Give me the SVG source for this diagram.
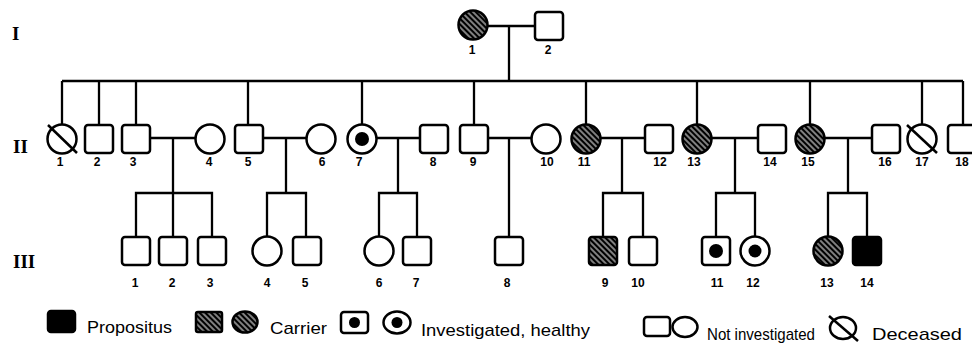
<svg xmlns="http://www.w3.org/2000/svg" width="972" height="345" viewBox="0 0 972 345">
<style>
.sq{fill:#fff;stroke:#000;stroke-width:2.5}
.ci{fill:#fff;stroke:#000;stroke-width:2.5}
.ha{fill:url(#hatch);stroke:#000;stroke-width:2.5}
.bk{fill:#000;stroke:#000;stroke-width:2.5}
.dot{fill:#000;stroke:none}
.ln{stroke:#000;stroke-width:2.3;fill:none}
.sl{stroke:#000;stroke-width:2.5;fill:none}
.l2{font-family:"Liberation Sans",Arial,sans-serif;font-weight:bold;font-size:12px;text-anchor:middle;fill:#000}
.l3{font-family:"Liberation Sans",Arial,sans-serif;font-weight:bold;font-size:12px;text-anchor:middle;fill:#000}
.rn{font-family:"Liberation Serif","Times New Roman",serif;font-weight:bold;font-size:19px;fill:#000}
.lg{font-family:"Liberation Sans",Arial,sans-serif;font-size:17px;fill:#000}
</style>
<defs>
<pattern id="hatch" patternUnits="userSpaceOnUse" width="4" height="4" patternTransform="rotate(-45)">
<rect width="4" height="4" fill="#000"/>
<line x1="2" y1="0" x2="2" y2="4" stroke="#fff" stroke-width="1"/>
</pattern>
</defs>

<g id="gen-labels">
<text class="rn" x="12" y="40">I</text>
<text class="rn" x="13" y="153">II</text>
<text class="rn" x="13" y="268">III</text>
</g>

<g id="connectors">
<line class="ln" x1="488" y1="26" x2="535" y2="26"/>
<line class="ln" x1="509" y1="26" x2="509" y2="81"/>
<line class="ln" x1="62" y1="81" x2="963" y2="81"/>
<line class="ln" x1="62" y1="81" x2="62" y2="125"/>
<line class="ln" x1="99" y1="81" x2="99" y2="125"/>
<line class="ln" x1="136" y1="81" x2="136" y2="125"/>
<line class="ln" x1="248" y1="81" x2="248" y2="125"/>
<line class="ln" x1="362" y1="81" x2="362" y2="125"/>
<line class="ln" x1="474" y1="81" x2="474" y2="125"/>
<line class="ln" x1="586" y1="81" x2="586" y2="125"/>
<line class="ln" x1="697" y1="81" x2="697" y2="125"/>
<line class="ln" x1="810" y1="81" x2="810" y2="125"/>
<line class="ln" x1="922" y1="81" x2="922" y2="125"/>
<line class="ln" x1="963" y1="81" x2="963" y2="125"/>
<line class="ln" x1="150" y1="138" x2="196" y2="138"/>
<line class="ln" x1="263" y1="138" x2="307" y2="138"/>
<line class="ln" x1="376" y1="138" x2="420" y2="138"/>
<line class="ln" x1="488" y1="138" x2="532" y2="138"/>
<line class="ln" x1="600" y1="138" x2="645" y2="138"/>
<line class="ln" x1="711" y1="138" x2="758" y2="138"/>
<line class="ln" x1="824" y1="138" x2="872" y2="138"/>
<line class="ln" x1="173" y1="138" x2="173" y2="193"/>
<line class="ln" x1="286" y1="138" x2="286" y2="193"/>
<line class="ln" x1="398" y1="138" x2="398" y2="193"/>
<line class="ln" x1="509" y1="138" x2="509" y2="237"/>
<line class="ln" x1="622" y1="138" x2="622" y2="193"/>
<line class="ln" x1="735" y1="138" x2="735" y2="193"/>
<line class="ln" x1="848" y1="138" x2="848" y2="193"/>
<polyline class="ln" points="136,237 136,193 212,193 212,237"/>
<line class="ln" x1="173" y1="193" x2="173" y2="237"/>
<polyline class="ln" points="267,237 267,193 306,193 306,237"/>
<polyline class="ln" points="379,237 379,193 417,193 417,237"/>
<polyline class="ln" points="603,237 603,193 643,193 643,237"/>
<polyline class="ln" points="716,237 716,193 755,193 755,237"/>
<polyline class="ln" points="828,237 828,193 867,193 867,237"/>
</g>

<g id="I-1"><circle class="ha" cx="473" cy="25" r="14.5"/><text class="l2" x="472" y="54">1</text></g>
<g id="I-2"><rect class="sq" x="535" y="12" width="28" height="28" rx="3"/><text class="l2" x="548" y="54">2</text></g>

<g id="II-1"><circle class="ci" cx="62" cy="139" r="14.5"/><line class="sl" x1="48" y1="125" x2="77" y2="153"/><text class="l2" x="60" y="166">1</text></g>
<g id="II-2"><rect class="sq" x="85" y="125" width="28" height="28" rx="3"/><text class="l2" x="97" y="166">2</text></g>
<g id="II-3"><rect class="sq" x="122" y="125" width="28" height="28" rx="3"/><text class="l2" x="133" y="166">3</text></g>
<g id="II-4"><circle class="ci" cx="210" cy="139" r="14.5"/><text class="l2" x="209" y="166">4</text></g>
<g id="II-5"><rect class="sq" x="235" y="125" width="28" height="28" rx="3"/><text class="l2" x="248" y="166">5</text></g>
<g id="II-6"><circle class="ci" cx="321" cy="139" r="14.5"/><text class="l2" x="322" y="166">6</text></g>
<g id="II-7"><circle class="ci" cx="362" cy="139" r="14.5"/><circle class="dot" cx="362" cy="139" r="7"/><text class="l2" x="359" y="166">7</text></g>
<g id="II-8"><rect class="sq" x="420" y="125" width="28" height="28" rx="3"/><text class="l2" x="433" y="166">8</text></g>
<g id="II-9"><rect class="sq" x="460" y="125" width="28" height="28" rx="3"/><text class="l2" x="473" y="166">9</text></g>
<g id="II-10"><circle class="ci" cx="546" cy="139" r="14.5"/><text class="l2" x="547" y="166">10</text></g>
<g id="II-11"><circle class="ha" cx="586" cy="139" r="14.5"/><text class="l2" x="584" y="166">11</text></g>
<g id="II-12"><rect class="sq" x="645" y="125" width="28" height="28" rx="3"/><text class="l2" x="660" y="166">12</text></g>
<g id="II-13"><circle class="ha" cx="697" cy="139" r="14.5"/><text class="l2" x="694" y="166">13</text></g>
<g id="II-14"><rect class="sq" x="758" y="125" width="28" height="28" rx="3"/><text class="l2" x="770" y="166">14</text></g>
<g id="II-15"><circle class="ha" cx="810" cy="139" r="14.5"/><text class="l2" x="808" y="166">15</text></g>
<g id="II-16"><rect class="sq" x="872" y="125" width="28" height="28" rx="3"/><text class="l2" x="885" y="166">16</text></g>
<g id="II-17"><circle class="ci" cx="922" cy="139" r="14.5"/><line class="sl" x1="907" y1="125" x2="937" y2="153"/><text class="l2" x="922" y="166">17</text></g>
<g id="II-18"><rect class="sq" x="948" y="125" width="28" height="28" rx="3"/><text class="l2" x="962" y="166">18</text></g>

<g id="III-1"><rect class="sq" x="122" y="237" width="28" height="28" rx="3"/><text class="l3" x="135" y="287">1</text></g>
<g id="III-2"><rect class="sq" x="159" y="237" width="28" height="28" rx="3"/><text class="l3" x="172" y="287">2</text></g>
<g id="III-3"><rect class="sq" x="198" y="237" width="28" height="28" rx="3"/><text class="l3" x="210" y="287">3</text></g>
<g id="III-4"><circle class="ci" cx="267" cy="251" r="14.5"/><text class="l3" x="267" y="287">4</text></g>
<g id="III-5"><rect class="sq" x="293" y="237" width="28" height="28" rx="3"/><text class="l3" x="305" y="287">5</text></g>
<g id="III-6"><circle class="ci" cx="379" cy="251" r="14.5"/><text class="l3" x="379" y="287">6</text></g>
<g id="III-7"><rect class="sq" x="403" y="237" width="28" height="28" rx="3"/><text class="l3" x="416" y="287">7</text></g>
<g id="III-8"><rect class="sq" x="495" y="237" width="28" height="28" rx="3"/><text class="l3" x="507" y="287">8</text></g>
<g id="III-9"><rect class="ha" x="589" y="237" width="28" height="28" rx="3"/><text class="l3" x="605" y="287">9</text></g>
<g id="III-10"><rect class="sq" x="629" y="237" width="28" height="28" rx="3"/><text class="l3" x="638" y="287">10</text></g>
<g id="III-11"><rect class="sq" x="702" y="237" width="28" height="28" rx="3"/><circle class="dot" cx="716" cy="251" r="7"/><text class="l3" x="717" y="287">11</text></g>
<g id="III-12"><circle class="ci" cx="755" cy="251" r="14.5"/><circle class="dot" cx="755" cy="251" r="6.5"/><text class="l3" x="753" y="287">12</text></g>
<g id="III-13"><circle class="ha" cx="828" cy="251" r="14.5"/><text class="l3" x="827" y="287">13</text></g>
<g id="III-14"><rect class="bk" x="853" y="237" width="28" height="28" rx="3"/><text class="l3" x="867" y="287">14</text></g>

<g id="legend">
<rect class="bk" x="48" y="311" width="27" height="21" rx="3"/>
<text class="lg" x="87" y="333" textLength="85" lengthAdjust="spacingAndGlyphs">Propositus</text>
<rect class="ha" x="196" y="312" width="26" height="20" rx="2"/>
<ellipse class="ha" cx="245" cy="322" rx="12.5" ry="10.5"/>
<text class="lg" x="270" y="334" textLength="57" lengthAdjust="spacingAndGlyphs">Carrier</text>
<rect class="sq" x="341" y="312" width="27" height="21" rx="3"/>
<circle class="dot" cx="354.5" cy="322.5" r="5.5"/>
<ellipse class="ci" cx="397" cy="322.5" rx="13.5" ry="11"/>
<circle class="dot" cx="397" cy="322.5" r="5.5"/>
<text class="lg" x="421" y="336" textLength="169" lengthAdjust="spacingAndGlyphs">Investigated, healthy</text>
<rect class="sq" x="644" y="317" width="26" height="19" rx="3"/>
<ellipse class="ci" cx="685" cy="327" rx="12.5" ry="10"/>
<text class="lg" x="707" y="340" textLength="108" lengthAdjust="spacingAndGlyphs">Not investigated</text>
<ellipse class="ci" cx="843" cy="328" rx="13" ry="11"/>
<line class="sl" x1="829" y1="316" x2="858" y2="341"/>
<text class="lg" x="872" y="340" textLength="90" lengthAdjust="spacingAndGlyphs">Deceased</text>
</g>
</svg>
